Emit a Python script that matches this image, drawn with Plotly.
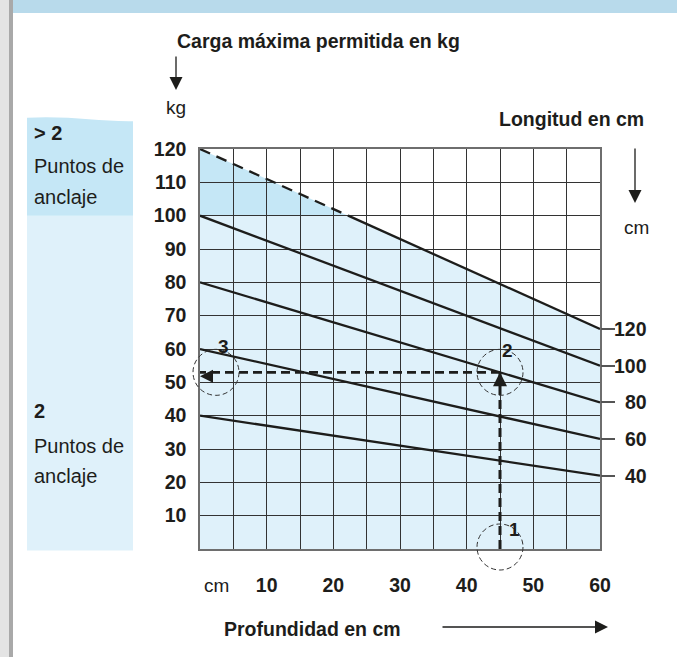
import plotly.graph_objects as go

# ---- data -------------------------------------------------------------
depth_cm = [0, 60]                      # depth axis extent (cm)
load_range_kg = [0, 120]                # load axis extent (kg)
length_cm = [40, 60, 80, 100, 120]      # bracket length for each line
load_at_depth0 = [40, 60, 80, 100, 120] # max load (kg) at depth 0
load_at_depth60 = [22, 33, 44, 55, 66]  # max load (kg) at depth 60
anchor_limit_kg = 100                   # above this: more than 2 anchor points

x_tick_vals = list(range(0, 61, 5))
x_tick_text = ["<b>%d</b>" % v if v % 10 == 0 and v > 0 else "" for v in x_tick_vals]
y_tick_vals = list(range(0, 121, 10))
y_tick_text = ["<b>%d</b>" % v if v > 0 else "" for v in y_tick_vals]

example_depth = 45      # step 1
example_length = 80     # step 2
# step 3: read the load where the 80 cm line meets the 45 cm depth
i80 = length_cm.index(example_length)
example_load = load_at_depth0[i80] + (load_at_depth60[i80] - load_at_depth0[i80]) * (
    example_depth - depth_cm[0]) / (depth_cm[1] - depth_cm[0])

FONT = "Liberation Sans, Arial, sans-serif"
INK = "#1d1d1b"
LIGHT_BLUE = "#dff1fa"
MID_BLUE = "#c5e7f6"


def xp(v):
    """depth value -> paper fraction"""
    return (v - depth_cm[0]) / (depth_cm[1] - depth_cm[0])


def yp(v):
    """load value -> paper fraction"""
    return (v - load_range_kg[0]) / (load_range_kg[1] - load_range_kg[0])


fig = go.Figure()

# ---- load lines -------------------------------------------------------
for L, y0, y1 in zip(length_cm, load_at_depth0, load_at_depth60):
    if y0 > anchor_limit_kg:
        # dashed where the load exceeds the 2-anchor limit, solid below
        slope = (y1 - y0) / (depth_cm[1] - depth_cm[0])
        x_cross = depth_cm[0] + (anchor_limit_kg - y0) / slope
        fig.add_trace(go.Scatter(x=[depth_cm[0], x_cross], y=[y0, anchor_limit_kg],
                                 mode="lines", line=dict(color=INK, width=2.3, dash="11px,7px"),
                                 hoverinfo="skip"))
        fig.add_trace(go.Scatter(x=[x_cross, depth_cm[1]], y=[anchor_limit_kg, y1],
                                 mode="lines", line=dict(color=INK, width=2.3),
                                 hoverinfo="skip"))
    else:
        fig.add_trace(go.Scatter(x=depth_cm, y=[y0, y1], mode="lines",
                                 line=dict(color=INK, width=2.3), hoverinfo="skip"))

# invisible trace to carry the right-hand tick axis
fig.add_trace(go.Scatter(x=[depth_cm[1]] * len(load_at_depth60), y=load_at_depth60,
                         yaxis="y2", mode="markers", marker=dict(opacity=0),
                         hoverinfo="skip"))

# ---- reading example (dashed guide with arrows) ----------------------
fig.add_trace(go.Scatter(x=[example_depth, example_depth], y=[0, example_load],
                         mode="lines", line=dict(color=INK, width=3, dash="9px,5px"),
                         hoverinfo="skip"))
fig.add_trace(go.Scatter(x=[example_depth, 0], y=[example_load, example_load],
                         mode="lines", line=dict(color=INK, width=2.6, dash="9px,5px"),
                         hoverinfo="skip"))
fig.add_trace(go.Scatter(x=[example_depth], y=[example_load], mode="markers",
                         marker=dict(symbol="arrow-up", size=14, color=INK, line=dict(width=0)),
                         hoverinfo="skip"))
fig.add_trace(go.Scatter(x=[0], y=[example_load], mode="markers",
                         marker=dict(symbol="arrow-left", size=13, color=INK, line=dict(width=0),
                                     standoff=4),
                         hoverinfo="skip", cliponaxis=False))

# ---- shapes ----------------------------------------------------------
shapes = []
# fill under the 120 cm line: light below the anchor limit, stronger above it
i120 = length_cm.index(120)
y0_120, y1_120 = load_at_depth0[i120], load_at_depth60[i120]
slope120 = (y1_120 - y0_120) / (depth_cm[1] - depth_cm[0])
xc = (anchor_limit_kg - y0_120) / slope120
shapes.append(dict(type="path", xref="x", yref="y", layer="below", line=dict(width=0),
                   fillcolor=LIGHT_BLUE,
                   path=f"M {depth_cm[0]},0 L {depth_cm[0]},{anchor_limit_kg} L {xc},{anchor_limit_kg} "
                        f"L {depth_cm[1]},{y1_120} L {depth_cm[1]},0 Z"))
shapes.append(dict(type="path", xref="x", yref="y", layer="below", line=dict(width=0),
                   fillcolor=MID_BLUE,
                   path=f"M {depth_cm[0]},{anchor_limit_kg} L {depth_cm[0]},{y0_120} "
                        f"L {xc},{anchor_limit_kg} Z"))

# side panel: anchor-point ranges (light: 2 anchors, strong: more than 2)
px0, px1 = -0.4325, -0.1675
lim = yp(anchor_limit_kg)
shapes.append(dict(type="rect", xref="paper", yref="paper", x0=px0, x1=px1, y0=-0.004, y1=lim,
                   fillcolor=LIGHT_BLUE, line=dict(width=0), layer="below"))
shapes.append(dict(type="path", xref="paper", yref="paper", layer="below", line=dict(width=0),
                   fillcolor=MID_BLUE,
                   path=f"M {px0},{lim} L {px1},{lim} L {px1},1.0695 "
                        f"C -0.25,1.068 -0.33,1.084 {px0},1.078 Z"))

# header band and left page edge
shapes.append(dict(type="rect", xref="paper", yref="paper", x0=-0.4675, x1=1.1925, y0=1.34, y1=1.3725,
                   fillcolor="#b8daeb", line=dict(width=0), layer="below"))
shapes.append(dict(type="rect", xref="paper", yref="paper", x0=-0.5, x1=-0.4775, y0=-0.27, y1=1.3725,
                   fillcolor="#e4e4e4", line=dict(width=0), layer="below"))
shapes.append(dict(type="rect", xref="paper", yref="paper", x0=-0.4775, x1=-0.4675, y0=-0.27, y1=1.3725,
                   fillcolor="#a9a9a9", line=dict(width=0), layer="below"))

# dashed circles around the three reading steps (pixel-sized, not clipped)
circ = dict(type="circle", xref="paper", yref="paper", xsizemode="pixel", ysizemode="pixel",
            line=dict(color="#333333", width=1, dash="5px,3px"), layer="above")
shapes.append(dict(circ, xanchor=xp(example_depth), yanchor=yp(0), x0=-23, x1=23, y0=-21, y1=25))
shapes.append(dict(circ, xanchor=xp(example_depth), yanchor=yp(example_load),
                   x0=-23, x1=23, y0=-23, y1=23))
shapes.append(dict(circ, xanchor=xp(0), yanchor=yp(example_load), x0=-7, x1=39, y0=-23, y1=23))

# ---- annotations -----------------------------------------------------
ann = []


def txt(text, x, y, size=19.5, xanchor="left", xref="paper", yref="paper", **kw):
    ann.append(dict(text=text, x=x, y=y, xref=xref, yref=yref, xanchor=xanchor, yanchor="middle",
                    showarrow=False, font=dict(family=FONT, size=size, color=INK), **kw))


def arrow(x, y, ax, ay, width=1.3, size=2.0):
    ann.append(dict(text="", x=x, y=y, xref="paper", yref="paper", ax=ax, ay=ay,
                    axref="pixel", ayref="pixel", showarrow=True, arrowhead=2,
                    arrowwidth=width, arrowsize=size, arrowcolor=INK))


txt("<b>Carga máxima permitida en kg</b>", -0.0625, 1.27)
arrow(-0.06, 1.1475, 0, -35)
txt("kg", -0.06, 1.105, size=19, xanchor="center")

txt("<b>Longitud en cm</b>", 0.7425, 1.075)
arrow(1.0875, 0.865, 0, -56)
txt("cm", 1.09, 0.805, size=19, xanchor="center")

txt("<b>Profundidad en cm</b>", 0.055, -0.2)
arrow(1.02, -0.195, -167, 0)

txt("cm", 2.5, -0.09, size=19, xanchor="center", xref="x")

txt("<b>&gt; 2</b>", -0.42, 1.04, size=20)
txt("Puntos de", -0.42, 0.9575, size=20)
txt("anclaje", -0.42, 0.88, size=20)
txt("<b>2</b>", -0.42, 0.345, size=20)
txt("Puntos de", -0.42, 0.2575, size=20)
txt("anclaje", -0.42, 0.1825, size=20)

# length labels at the right end of each line
for L, yv in zip(length_cm, load_at_depth60):
    txt("<b>%d</b>" % L, 1.1225, yv, xanchor="right", yref="y")

# step numbers
for label, xv, yv, dx, dy in [("1", example_depth, 0, 14, 20),
                              ("2", example_depth, example_load, 7, 22),
                              ("3", 0, example_load, 23, 26)]:
    ann.append(dict(text="<b>%s</b>" % label, x=xv, y=yv, xref="x", yref="y",
                    xshift=dx, yshift=dy, showarrow=False,
                    font=dict(family=FONT, size=19, color=INK)))

# ---- layout ----------------------------------------------------------
fig.update_layout(
    width=677, height=657,
    margin=dict(l=200, r=77, t=149, b=108, pad=0),
    paper_bgcolor="white", plot_bgcolor="white",
    showlegend=False, hovermode=False,
    font=dict(family=FONT, size=19.5, color=INK),
    xaxis=dict(range=depth_cm, tickvals=x_tick_vals, ticktext=x_tick_text,
               ticks="", showgrid=True, gridcolor="#333333", gridwidth=1,
               zeroline=False, showline=True, mirror=True, linecolor="#6e6e6e", linewidth=1.5,
               ticklabelstandoff=18, tickfont=dict(size=19.5), fixedrange=True),
    yaxis=dict(range=load_range_kg, tickvals=y_tick_vals, ticktext=y_tick_text,
               ticks="", showgrid=True, gridcolor="#333333", gridwidth=1,
               zeroline=False, showline=True, mirror=True, linecolor="#6e6e6e", linewidth=1.5,
               ticklabelstandoff=8, tickfont=dict(size=19.5), fixedrange=True),
    yaxis2=dict(range=load_range_kg, overlaying="y", side="right", anchor="x",
                tickvals=load_at_depth60, ticks="outside", ticklen=14, tickwidth=1.5,
                tickcolor="#555555", showticklabels=False, showgrid=False,
                zeroline=False, showline=False, fixedrange=True),
    shapes=shapes, annotations=ann,
)

fig.write_html("out.html", config={"displayModeBar": False})
